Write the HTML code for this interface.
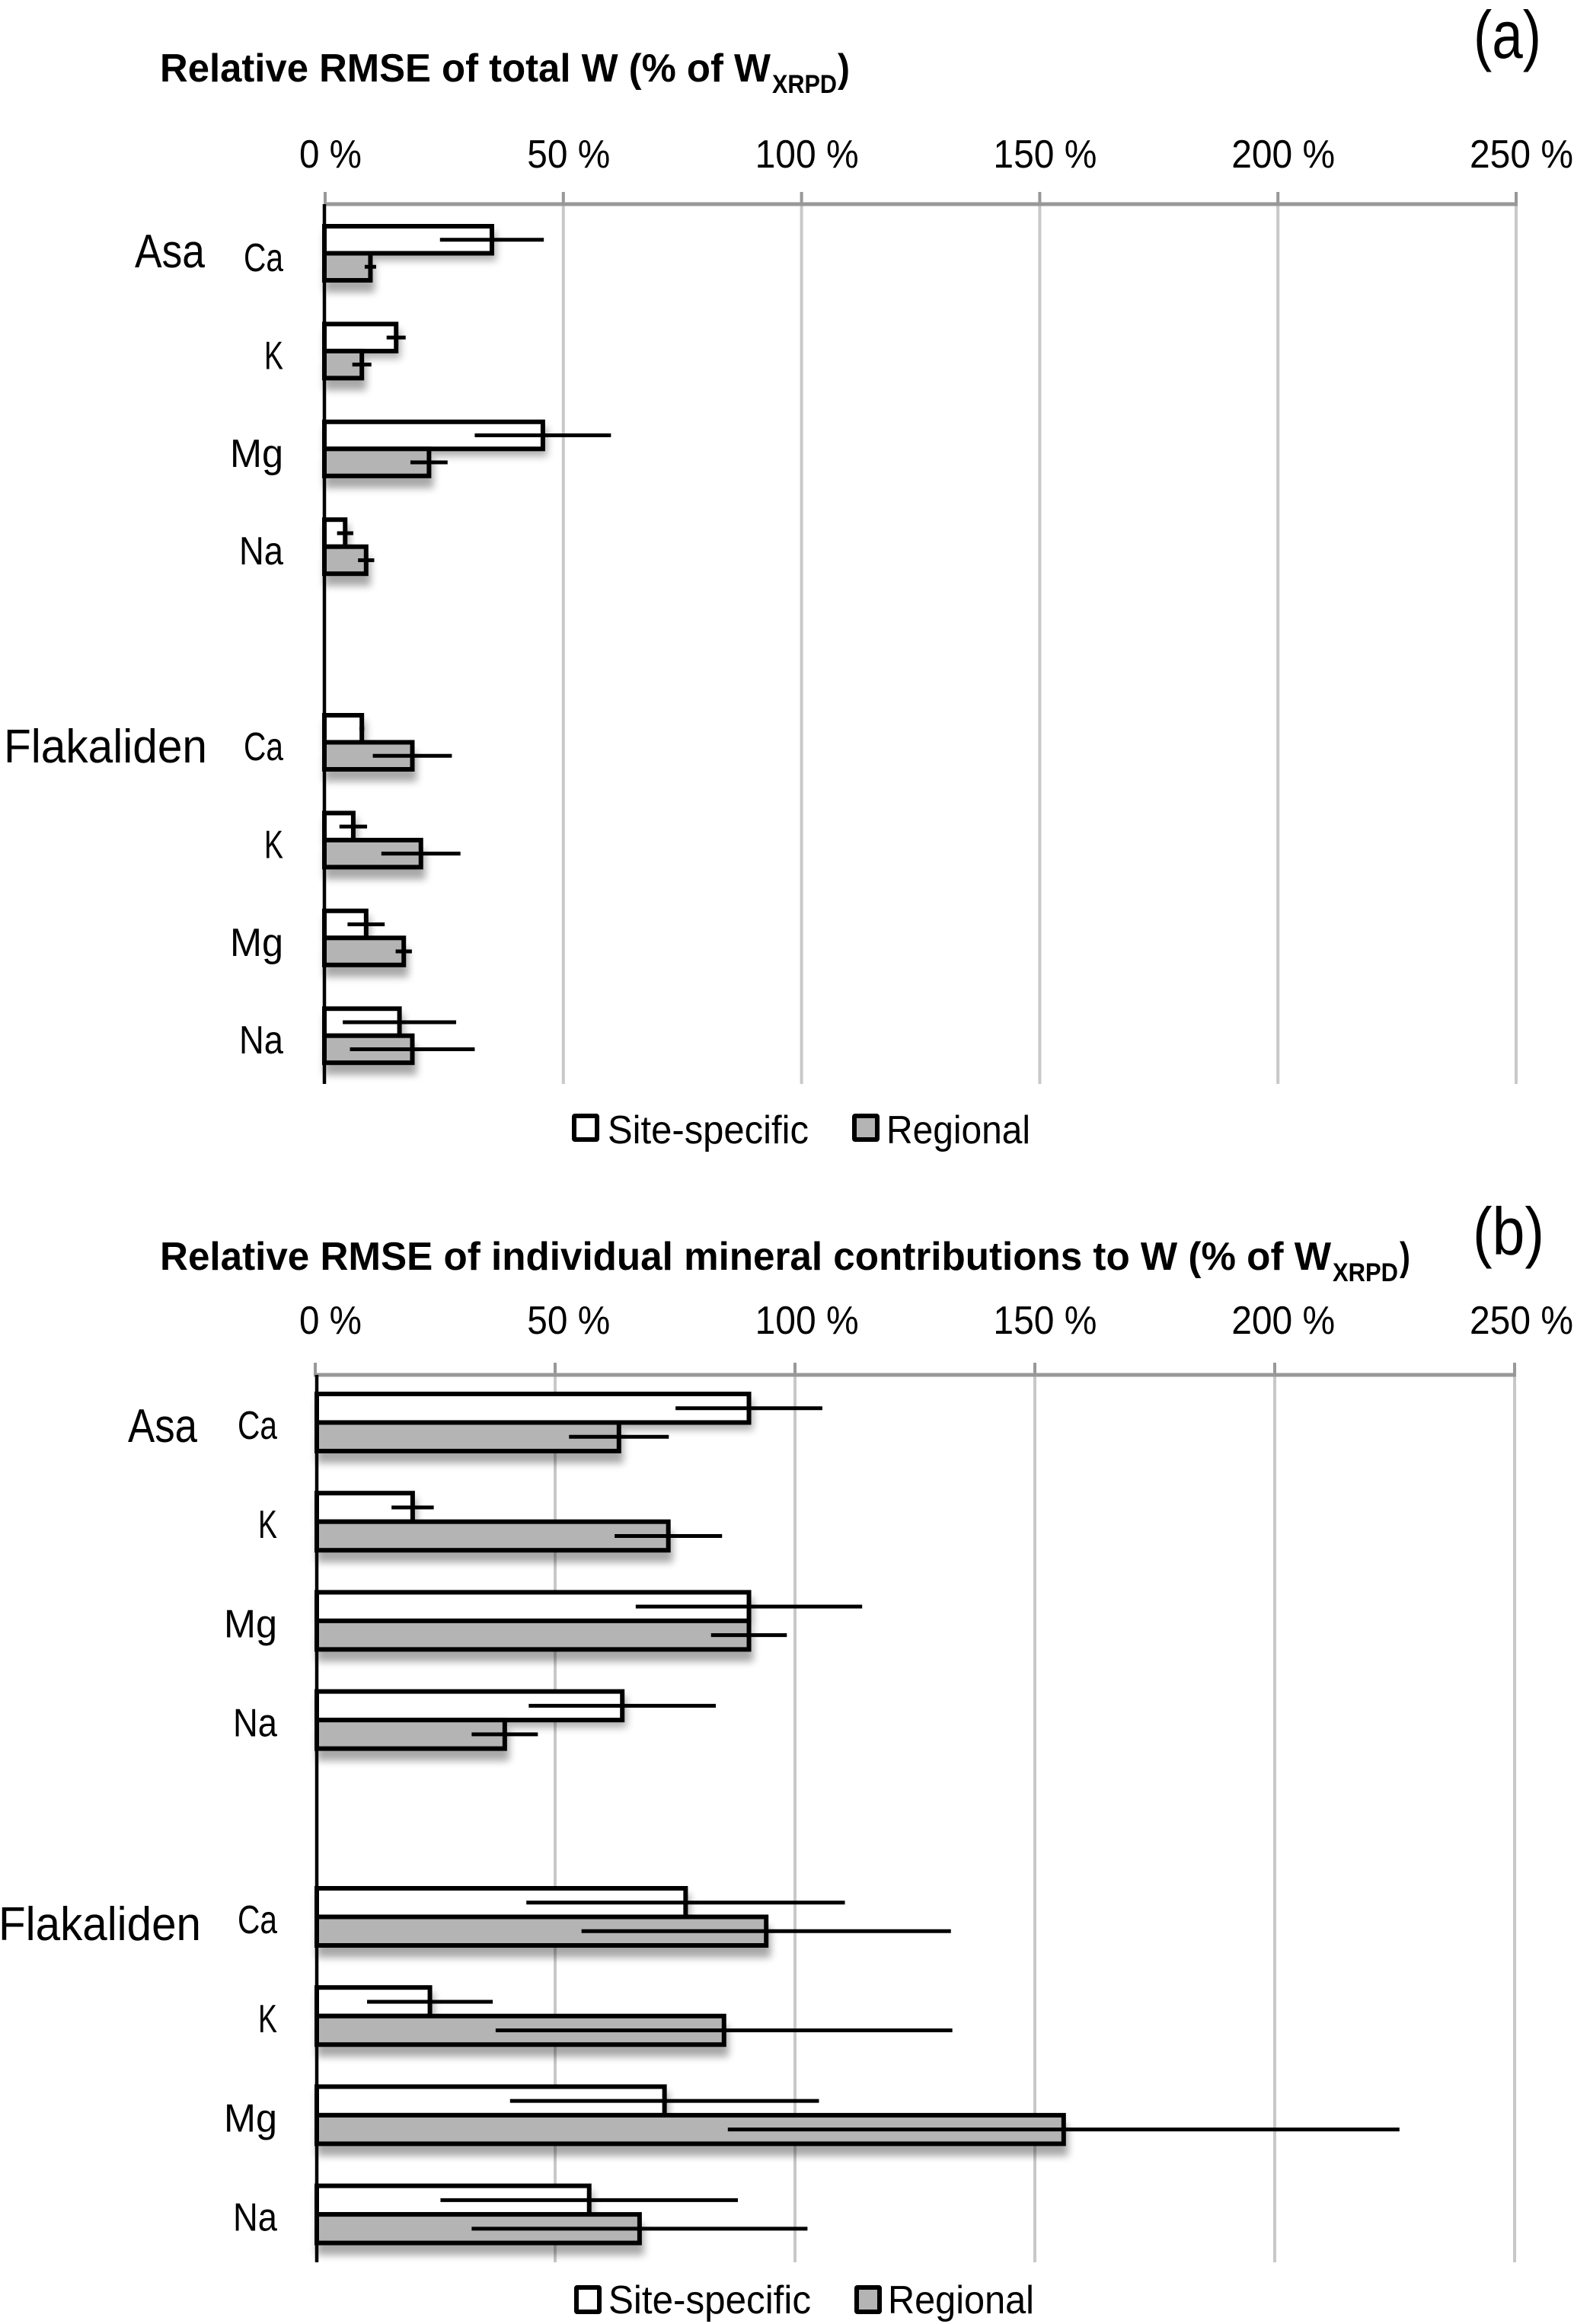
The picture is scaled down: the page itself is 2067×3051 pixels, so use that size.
<!DOCTYPE html>
<html lang="en">
<head>
<meta charset="utf-8">
<title>Relative RMSE of W</title>
<style>
html,body{margin:0;padding:0;background:#fff;}
svg{display:block;}
text{font-family:"Liberation Sans",sans-serif;fill:#000;}
</style>
</head>
<body>
<svg id="chart" xmlns="http://www.w3.org/2000/svg" width="2067" height="3051" viewBox="0 0 2067 3051">
  <defs>
    <filter id="soft" x="-20%" y="-60%" width="140%" height="220%"><feGaussianBlur stdDeviation="5"/></filter>
  </defs>
  <rect width="2067" height="3051" fill="#fff"/>

  <g>
    <text x="210" y="107" font-size="52" font-weight="bold" textLength="802" lengthAdjust="spacingAndGlyphs">Relative RMSE of total W (% of W</text>
    <text x="1014" y="122" font-size="34" font-weight="bold" textLength="85" lengthAdjust="spacingAndGlyphs">XRPD</text>
    <text x="1100" y="107" font-size="52" font-weight="bold" textLength="16" lengthAdjust="spacingAndGlyphs">)</text>
  </g>
  <text x="1935" y="76" font-size="88" textLength="89" lengthAdjust="spacingAndGlyphs">(a)</text>

  <g>
    <text x="210" y="1667" font-size="52" font-weight="bold" textLength="1538" lengthAdjust="spacingAndGlyphs">Relative RMSE of individual mineral contributions to W  (% of W</text>
    <text x="1750" y="1682" font-size="34" font-weight="bold" textLength="86" lengthAdjust="spacingAndGlyphs">XRPD</text>
    <text x="1838" y="1667" font-size="52" font-weight="bold" textLength="14" lengthAdjust="spacingAndGlyphs">)</text>
  </g>
  <text x="1934" y="1647" font-size="88" textLength="94" lengthAdjust="spacingAndGlyphs">(b)</text>

  <g id="panel-a"></g>
  <g id="panel-b"></g>

  <g>
    <g>
      <rect x="754" y="1465" width="30" height="31" fill="#fff" stroke="#000" stroke-width="6" rx="1"/>
      <text x="798" y="1501" font-size="52" textLength="264" lengthAdjust="spacingAndGlyphs">Site-specific</text>
    </g>
    <g>
      <rect x="1122" y="1465" width="30" height="31" fill="#b4b4b4" stroke="#000" stroke-width="6" rx="1"/>
      <text x="1164" y="1501" font-size="52" textLength="189" lengthAdjust="spacingAndGlyphs">Regional</text>
    </g>
  </g>
  <g>
    <g>
      <rect x="757" y="3003" width="30" height="32" fill="#fff" stroke="#000" stroke-width="6" rx="1"/>
      <text x="799" y="3037" font-size="52" textLength="266" lengthAdjust="spacingAndGlyphs">Site-specific</text>
    </g>
    <g>
      <rect x="1125" y="3003" width="30" height="32" fill="#b4b4b4" stroke="#000" stroke-width="6" rx="1"/>
      <text x="1166" y="3037" font-size="52" textLength="192" lengthAdjust="spacingAndGlyphs">Regional</text>
    </g>
  </g>
</svg>
<script>
// ---- data ----
const sites = ["Asa", "Flakaliden"];
const minerals = ["Ca", "K", "Mg", "Na"];
const tickValues = [0, 50, 100, 150, 200, 250];
const tickLabels = ["0 %", "50 %", "100 %", "150 %", "200 %", "250 %"];

// panel (a): total W, Asa Ca..Na then Flakaliden Ca..Na
const siteA = [35.0, 14.9, 45.7, 4.2, 7.7, 5.9, 8.6, 15.6];
const siteErrA = [10.9, 2.0, 14.3, 1.7, 0.5, 2.9, 3.9, 11.9];
const regionalA = [9.5, 7.7, 21.8, 8.6, 18.3, 20.1, 16.5, 18.3];
const regionalErrA = [1.2, 2.0, 3.9, 1.7, 8.3, 8.3, 1.7, 13.1];

// panel (b): individual mineral contributions
const siteB = [90.4, 20.3, 90.4, 64.0, 77.2, 23.9, 72.8, 57.1];
const siteErrB = [15.3, 4.4, 23.6, 19.5, 33.2, 13.1, 32.2, 31.0];
const regionalB = [63.3, 73.6, 90.4, 39.5, 94.0, 85.2, 156.0, 67.6];
const regionalErrB = [10.4, 11.2, 7.9, 6.9, 38.5, 47.6, 70.0, 35.0];

// ---- drawing ----
const NS = "http://www.w3.org/2000/svg";
const labelWidth = {3: 82, 4: 109, 5: 136};
const mineralWidth = {Ca: 52, K: 25, Mg: 70, Na: 58};

function mk(parent, tag, attrs, text) {
  const el = document.createElementNS(NS, tag);
  for (const k in attrs) el.setAttribute(k, attrs[k]);
  if (text !== undefined) el.textContent = text;
  parent.appendChild(el);
  return el;
}

function drawPanel(cfg) {
  const root = document.getElementById(cfg.id);
  const x = v => cfg.x0 + v * cfg.pxPerUnit;
  const labelX = v => 434 + v * 6.256;
  const rowY = i => cfg.barTop + cfg.step * (i < 4 ? i : i + 1) + (i >= 4 ? cfg.lowerShift : 0);
  const top = cfg.axisTop, bottom = cfg.axisBottom;

  // gridlines, axis band and ticks
  tickValues.forEach((v, i) => {
    if (i > 0) {
      const grid = mk(root, "line", {x1: x(v), x2: x(v), y1: top, y2: bottom, stroke: "#c8c8c8", "stroke-width": 4});
      
      
    }
    const tick = mk(root, "line", {x1: x(v), x2: x(v), y1: top - 16, y2: top + 2, stroke: "#989898", "stroke-width": 4});
    
    
    const lab = mk(root, "text", {x: labelX(v), y: cfg.tickBaseline, "font-size": 52, "text-anchor": "middle",
      textLength: labelWidth[tickLabels[i].length], lengthAdjust: "spacingAndGlyphs"}, tickLabels[i]);
    
    
  });
  const band = mk(root, "line", {x1: x(0) - 2, x2: x(250) + 2, y1: top, y2: top, stroke: "#989898", "stroke-width": 5});
  
  

  // bars
  cfg.site.forEach((_, i) => {
    const y0 = rowY(i), h = cfg.barH, xs = cfg.axisX;
    const shadow1 = mk(root, "rect", {x: xs, y: y0 + 7, width: x(cfg.site[i]) - xs + 6, height: h + 3,
      fill: "#000", opacity: .3, filter: "url(#soft)"});
    
    
    const s = mk(root, "rect", {x: xs, y: y0, width: x(cfg.site[i]) - xs, height: h, fill: "#fff", stroke: "#000", "stroke-width": 6});
    
    
    const shadow2 = mk(root, "rect", {x: xs, y: y0 + h + 13, width: x(cfg.regional[i]) - xs + 6, height: h + 3,
      fill: "#000", opacity: .34, filter: "url(#soft)"});
    
    
    const r = mk(root, "rect", {x: xs, y: y0 + h, width: x(cfg.regional[i]) - xs, height: h, fill: "#b4b4b4", stroke: "#000", "stroke-width": 6});
    
    
    const e1 = mk(root, "line", {x1: x(cfg.site[i] - cfg.siteErr[i]), x2: x(cfg.site[i] + cfg.siteErr[i]),
      y1: y0 + h / 2, y2: y0 + h / 2, stroke: "#000", "stroke-width": 5});
    
    
    const e2 = mk(root, "line", {x1: x(cfg.regional[i] - cfg.regionalErr[i]), x2: x(cfg.regional[i] + cfg.regionalErr[i]),
      y1: y0 + h * 1.5, y2: y0 + h * 1.5, stroke: "#000", "stroke-width": 5});
    
    

    const name = minerals[i % 4];
    const cat = mk(root, "text", {x: cfg.catRight, y: y0 + 59, "font-size": 52, "text-anchor": "end",
      textLength: mineralWidth[name], lengthAdjust: "spacingAndGlyphs"}, name);
    
    
  });

  // site labels
  sites.forEach((name, i) => {
    const t = mk(root, "text", {x: cfg.siteLabels[i][0], y: cfg.siteLabels[i][1], "font-size": 62,
      textLength: cfg.siteLabels[i][2], lengthAdjust: "spacingAndGlyphs"}, name);
    
    
  });

  // vertical category axis
  const ax = mk(root, "line", {x1: cfg.axisX, x2: cfg.axisX, y1: top, y2: bottom, stroke: "#000", "stroke-width": 4.5});
  
  
}

drawPanel({
  id: "panel-a", x0: 427, pxPerUnit: 6.256, axisX: 426, axisTop: 268, axisBottom: 1423,
  tickBaseline: 220, barTop: 297, step: 128.4, barH: 35.5, catRight: 372, lowerShift: 0,
  site: siteA, siteErr: siteErrA, regional: regionalA, regionalErr: regionalErrA,
  siteLabels: [[177, 351, 92], [5, 1001, 267]]
});
drawPanel({
  id: "panel-b", x0: 414, pxPerUnit: 6.3, axisX: 416, axisTop: 1805, axisBottom: 2970,
  tickBaseline: 1751, barTop: 1830, step: 130.2, barH: 37.5, catRight: 364, lowerShift: -2,
  site: siteB, siteErr: siteErrB, regional: regionalB, regionalErr: regionalErrB,
  siteLabels: [[168, 1893, 91], [-2, 2547, 266]]
});
</script>
</body>
</html>
